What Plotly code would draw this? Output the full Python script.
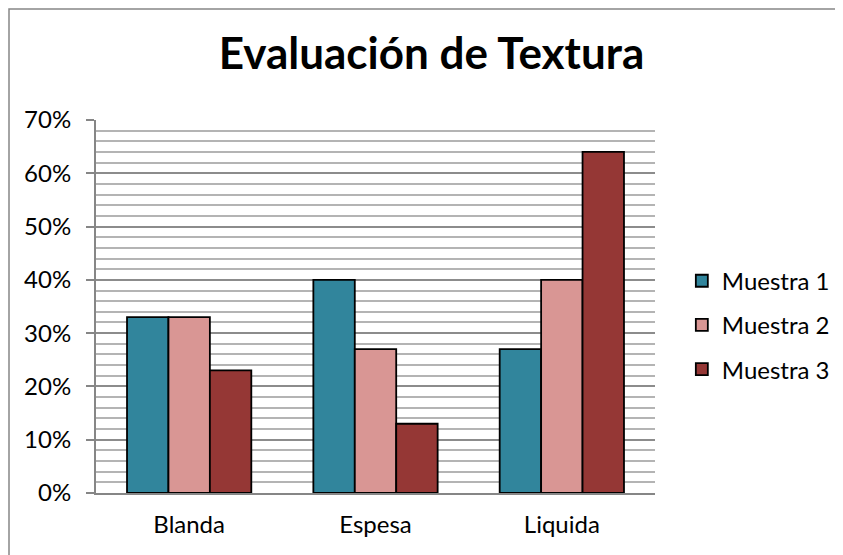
import plotly.graph_objects as go

categories = ["Blanda", "Espesa", "Liquida"]
muestra1 = [0.33, 0.40, 0.27]
muestra2 = [0.33, 0.27, 0.40]
muestra3 = [0.23, 0.13, 0.64]
series_names = ["Muestra 1", "Muestra 2", "Muestra 3"]
colors = ["#31859C", "#D99694", "#953735"]

W, H = 843, 555
L, R, T, B = 88, 196, 112, 70
pw, ph = W - L - R, H - T - B

fig = go.Figure()
for i, (name, vals, c) in enumerate(zip(series_names, [muestra1, muestra2, muestra3], colors)):
    fig.add_trace(go.Bar(x=categories, y=vals, name=name, legendgroup=str(i),
                         marker=dict(color=c, line=dict(color="#000000", width=1.8))))

font = "Lato, 'Open Sans', sans-serif"
fig.update_layout(
    width=W, height=H,
    margin=dict(l=L, r=R, t=T, b=B),
    paper_bgcolor="white", plot_bgcolor="white",
    barmode="group", bargap=0.333, bargroupgap=0,
    title=dict(text="<b>Evaluación de Textura</b>", x=423.5 / W, xanchor="center",
               y=1 - 46 / H, yanchor="middle", font=dict(family=font, size=44, color="#000")),
    font=dict(family=font, color="#000"),
    legend=dict(x=1.048, y=0.45, xanchor="left", yanchor="middle",
                font=dict(size=24, family=font), itemwidth=30,
                traceorder="grouped", tracegroupgap=10),
    showlegend=True,
)
fig.update_xaxes(showline=True, linecolor="#868686", linewidth=2,
                 tickfont=dict(size=24, family=font), ticks="", showgrid=False,
                 ticklabelstandoff=9)
fig.update_yaxes(range=[0, 0.70], dtick=0.10, tickformat=".0%",
                 showline=True, linecolor="#868686", linewidth=2,
                 ticks="outside", ticklen=8, tickcolor="#868686", tickwidth=2,
                 showgrid=True, gridcolor="#8C8C8C", gridwidth=2,
                 minor=dict(dtick=0.02, showgrid=True, gridcolor="#B4B4B4", gridwidth=2),
                 tickfont=dict(size=24, family=font), zeroline=False,
                 ticklabelstandoff=10)

fig.add_shape(type="rect", xref="paper", yref="paper",
              x0=(1 - L) / pw, x1=(W - 1 - L) / pw,
              y0=(H - B - (H - 1)) / ph, y1=(H - B - 1) / ph,
              line=dict(color="#868686", width=1.5), fillcolor="rgba(0,0,0,0)", layer="below")

fig.write_html("out.html")
